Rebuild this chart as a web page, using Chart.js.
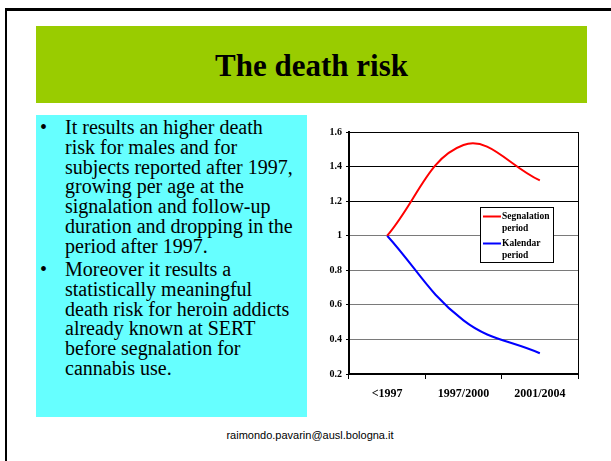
<!DOCTYPE html>
<html>
<head>
<meta charset="utf-8">
<script src="https://cdn.jsdelivr.net/npm/chart.js@4"></script>
<style>
  html, body { margin: 0; padding: 0; background: #fff; }
  body { width: 611px; height: 461px; position: relative; overflow: hidden; }
  .frame { position: absolute; left: 5px; top: 8px; width: 700px; height: 600px;
           border-left: 2px solid #000; border-top: 3px solid #000; box-sizing: border-box; }
  .title-bar { position: absolute; left: 36px; top: 26px; width: 551px; height: 77px;
               background: #99cc00; display: flex; align-items: center; justify-content: center;
               font-family: 'Liberation Serif', 'Times New Roman', serif; font-weight: bold;
               font-size: 31px; padding-top: 2px; box-sizing: border-box; }
  .text-box { position: absolute; left: 36px; top: 115px; width: 271px; height: 302px;
              background: #66ffff; box-sizing: border-box; padding-top: 3px;
              font-family: 'Liberation Serif', 'Times New Roman', serif; font-size: 20px; }
  .text-box p { position: relative; margin: 0 0 3.5px 0; padding-left: 29px;
                line-height: 19.8px; white-space: nowrap; }
  .text-box p::before { content: '\2022'; position: absolute; left: 4px; top: 0; }
  .footer { position: absolute; left: 10px; top: 429px; width: 600px; text-align: center;
            font-family: 'Liberation Sans', Arial, sans-serif; font-size: 11px; color: #000; }
  #chart-wrap { position: absolute; left: 300px; top: 115px; width: 300px; height: 300px; }
</style>
</head>
<body>
<div class="frame"></div>
<div class="title-bar">The death risk</div>
<div class="text-box">
  <p>It results an higher death<br>risk for males and for<br>subjects reported after 1997,<br>growing per age at the<br>signalation and follow-up<br>duration and dropping in the<br>period after 1997.</p>
  <p>Moreover it results a<br>statistically meaningful<br>death risk for heroin addicts<br>already known at SERT<br>before segnalation for<br>cannabis use.</p>
</div>
<div id="chart-wrap"><canvas id="risk-chart"></canvas></div>
<div class="footer">raimondo.pavarin@ausl.bologna.it</div>

<script>
// ---- data ----
const periods = ['<1997', '1997/2000', '2001/2004'];
const segnalationRisk = [1, 1.525, 1.32];
const kalendarRisk = [1, 0.51, 0.32];
const yTicks = [0.2, 0.4, 0.6, 0.8, 1, 1.2, 1.4, 1.6];

const serif = "'Liberation Serif', 'Times New Roman', serif";

// legend box drawn inside the plot, like the original
const insideLegend = {
  id: 'insideLegend',
  afterDraw(chart) {
    const { ctx, chartArea } = chart;
    const x = chartArea.left + 131;
    const y = chartArea.top + 75;
    const w = 73, h = 55;
    ctx.save();
    ctx.fillStyle = '#fff';
    ctx.fillRect(x, y, w, h);
    ctx.strokeStyle = '#000';
    ctx.lineWidth = 1;
    ctx.strokeRect(x + 0.5, y + 0.5, w, h);
    ctx.font = 'bold 9.5px ' + serif;
    ctx.textBaseline = 'middle';
    ctx.fillStyle = '#000';
    chart.data.datasets.forEach((ds, i) => {
      const top = y + 9.5 + i * 27;
      ctx.strokeStyle = ds.borderColor;
      ctx.lineWidth = 2;
      ctx.beginPath();
      ctx.moveTo(x + 3, top);
      ctx.lineTo(x + 21, top);
      ctx.stroke();
      ds.label.split(' ').forEach((word, j) => {
        ctx.fillText(word, x + 22, top + j * 12.5);
      });
    });
    ctx.restore();
  }
};

new Chart(document.getElementById('risk-chart'), {
  type: 'line',
  data: {
    labels: periods,
    datasets: [
      { label: 'Segnalation period', data: segnalationRisk, borderColor: '#ff0000',
        borderWidth: 2, pointRadius: 0, tension: 0.4, fill: false },
      { label: 'Kalendar period', data: kalendarRisk, borderColor: '#0000ff',
        borderWidth: 2, pointRadius: 0, tension: 0.4, fill: false }
    ]
  },
  options: {
    responsive: true,
    maintainAspectRatio: false,
    animation: false,
    layout: { padding: { left: 9, right: 22, top: 17, bottom: 11 } },
    plugins: { legend: { display: false }, tooltip: { enabled: false } },
    scales: {
      x: {
        offset: true,
        grid: { offset: true, drawOnChartArea: false, drawTicks: true, tickLength: 5, color: '#000' },
        border: { color: '#000', width: 2 },
        ticks: { color: '#000', padding: 8, font: { family: serif, size: 12, weight: 'bold' } },
        afterFit: s => { s.height = 30; }
      },
      y: {
        min: 0.2,
        max: 1.6,
        afterBuildTicks: s => { s.ticks = yTicks.map(v => ({ value: v })); },
        grid: {
          color: c => (c.tick && c.tick.value > 1.05) ? '#000' : '#7a7a7a',
          tickColor: '#000',
          tickLength: 3,
          lineWidth: 1
        },
        border: { color: '#000', width: 2 },
        ticks: {
          color: '#000',
          padding: 4,
          font: { family: serif, size: 10, weight: 'bold' },
          callback: v => String(Number(v.toFixed(1)))
        },
        afterFit: s => { s.width = 40; }
      },
      yRight: {
        position: 'right',
        min: 0.2,
        max: 1.6,
        grid: { display: false },
        ticks: { display: false },
        border: { display: true, color: '#000', width: 1 },
        afterFit: s => { s.width = 0; }
      }
    }
  },
  plugins: [insideLegend]
});
</script>
</body>
</html>
